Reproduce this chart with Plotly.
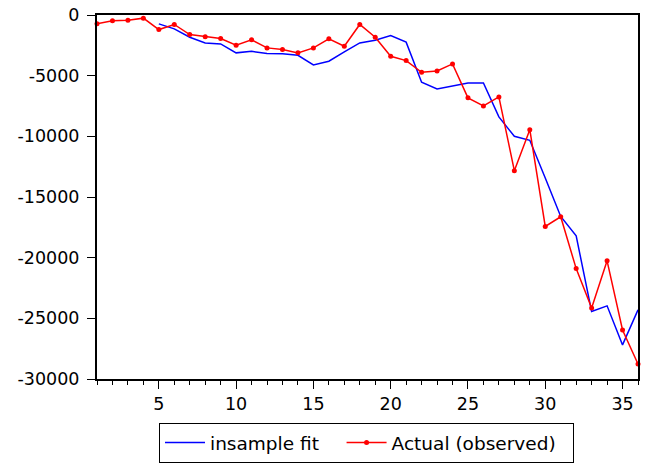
import plotly.graph_objects as go

periods = list(range(1, 37))
actual = [-730, -480, -430, -260, -1200, -780, -1610, -1800, -1940, -2490,
          -2050, -2710, -2850, -3120, -2710, -1960, -2570, -780, -1830, -3400,
          -3760, -4720, -4610, -4030, -6830, -7490, -6750, -12830, -9450, -17430,
          -16630, -20900, -24140, -20260, -25960, -28760]
fit_periods = list(range(5, 37))
fit = [-730, -1140, -1830, -2300, -2380, -3120, -2990, -3180, -3200, -3320,
       -4110, -3810, -3040, -2300, -2080, -1690, -2240, -5540, -6100, -5870,
       -5600, -5600, -8400, -10000, -10330, -13440, -16600, -18200, -24440, -23970,
       -27190, -24300]
y_ticks = [0, -5000, -10000, -15000, -20000, -25000, -30000]
x_ticks = [5, 10, 15, 20, 25, 30, 35]

fig = go.Figure()
fig.add_trace(go.Scatter(x=fit_periods, y=fit, mode="lines", name="insample fit\u00a0\u00a0\u00a0",
                         line=dict(color="#0000ff", width=1.5), cliponaxis=False))
fig.add_trace(go.Scatter(x=periods, y=actual, mode="lines+markers", name="Actual (observed)\u00a0\u00a0",
                         line=dict(color="#ff0000", width=1.5),
                         marker=dict(color="#ff0000", size=5), cliponaxis=False))

fig.update_layout(
    width=646, height=463,
    margin=dict(l=97, r=8, t=15, b=84),
    paper_bgcolor="white", plot_bgcolor="white",
    font=dict(family="DejaVu Sans, sans-serif", size=17.5, color="black"),
    showlegend=True,
    legend=dict(orientation="h", xref="container", x=366.5 / 646, xanchor="center",
                yref="container", y=0.0, yanchor="bottom",
                bordercolor="black", borderwidth=1, font=dict(size=18.5),
                itemwidth=40, tracegroupgap=0),
)
fig.update_xaxes(range=[1, 36], tickmode="array", tickvals=x_ticks, automargin=False,
                 ticks="outside", ticklen=8, tickwidth=1, tickcolor="black",
                 showgrid=False, zeroline=False, showline=True, linecolor="black",
                 linewidth=2, mirror=True,
                 minor=dict(dtick=1, tick0=1, ticks="outside", ticklen=4, tickcolor="black", showgrid=False))
fig.update_yaxes(range=[-30000, 0], tickmode="array", tickvals=y_ticks, automargin=False,
                 ticktext=[str(v) for v in y_ticks], ticklabelstandoff=4,
                 ticks="outside", ticklen=8, tickwidth=1, tickcolor="black",
                 showgrid=False, zeroline=False, showline=True, linecolor="black",
                 linewidth=2, mirror=True)

fig.write_html("out.html")
